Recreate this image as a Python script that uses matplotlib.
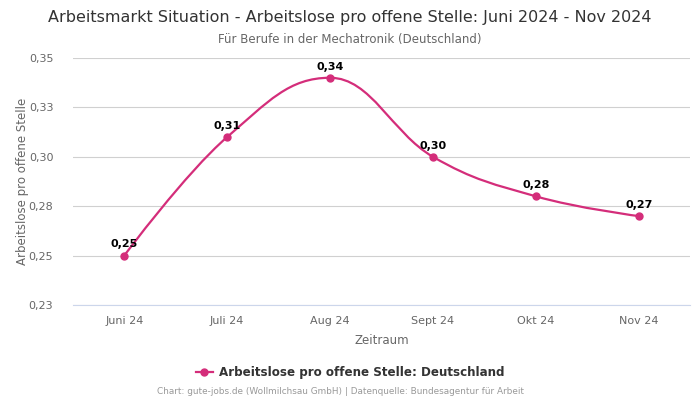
import numpy as np
import matplotlib.pyplot as plt
from matplotlib.path import Path
from matplotlib.patches import PathPatch
from matplotlib.lines import Line2D

# data
months = ['Juni 24', 'Juli 24', 'Aug 24', 'Sept 24', 'Okt 24', 'Nov 24']
values = [0.25, 0.31, 0.34, 0.30, 0.28, 0.27]
y_ticks = [0.225, 0.25, 0.275, 0.30, 0.325, 0.35]

color = '#d42d7a'


def spline_path(xs, ys, smoothing=1.5):
    # highcharts-like spline through the points
    n = len(xs)
    denom = smoothing + 1
    right = [None] * n
    left = [None] * n
    for i in range(1, n - 1):
        px, py = xs[i], ys[i]
        lx, ly = xs[i - 1], ys[i - 1]
        nx, ny = xs[i + 1], ys[i + 1]
        lcx = (smoothing * px + lx) / denom
        lcy = (smoothing * py + ly) / denom
        rcx = (smoothing * px + nx) / denom
        rcy = (smoothing * py + ny) / denom
        corr = 0
        if rcx != lcx:
            corr = (rcy - lcy) * (rcx - px) / (rcx - lcx) + py - rcy
        lcy += corr
        rcy += corr
        if lcy > ly and lcy > py:
            lcy = max(ly, py)
            rcy = 2 * py - lcy
        elif lcy < ly and lcy < py:
            lcy = min(ly, py)
            rcy = 2 * py - lcy
        if rcy > ny and rcy > py:
            rcy = max(ny, py)
            lcy = 2 * py - rcy
        elif rcy < ny and rcy < py:
            rcy = min(ny, py)
            lcy = 2 * py - rcy
        left[i] = (lcx, lcy)
        right[i] = (rcx, rcy)
    verts = [(xs[0], ys[0])]
    codes = [Path.MOVETO]
    for i in range(1, n):
        c1 = right[i - 1] if right[i - 1] else (xs[i - 1], ys[i - 1])
        c2 = left[i] if left[i] else (xs[i], ys[i])
        verts += [c1, c2, (xs[i], ys[i])]
        codes += [Path.CURVE4] * 3
    return Path(verts, codes)


fig = plt.figure(figsize=(7, 4), dpi=100)
ax = fig.add_axes([0.104, 0.2375, 0.882, 0.6175])

x = np.arange(len(months))
ax.add_patch(PathPatch(spline_path(list(x), values), fill=False, edgecolor=color, lw=1.6, zorder=3))
ax.plot(x, values, 'o', color=color, markersize=5, zorder=4)

for xi, v in zip(x, values):
    ax.annotate(f'{v:.2f}'.replace('.', ','), (xi, v), xytext=(0, 4.5), textcoords='offset points',
                ha='center', va='bottom', fontsize=8, fontweight='bold', color='black')

ax.set_xlim(-0.5, len(months) - 0.5)
ax.set_ylim(y_ticks[0], y_ticks[-1])
ax.set_xticks(x)
ax.set_xticklabels(months)
ax.set_yticks(y_ticks)
ax.set_yticklabels([f'{t:.2f}'.replace('.', ',') for t in y_ticks])
ax.tick_params(axis='both', length=0, labelsize=8, colors='#666666', pad=8)
ax.tick_params(axis='y', pad=14)
ax.grid(axis='y', color='#d0d0d0', lw=0.8)
for s in ['top', 'right', 'left']:
    ax.spines[s].set_visible(False)
ax.spines['bottom'].set_color('#ccd6eb')
ax.spines['bottom'].set_linewidth(0.8)

ax.set_xlabel('Zeitraum', fontsize=8.5, color='#666666', labelpad=6)
ax.set_ylabel('Arbeitslose pro offene Stelle', fontsize=8.5, color='#666666', labelpad=0)

fig.text(0.5, 0.957, 'Arbeitsmarkt Situation - Arbeitslose pro offene Stelle: Juni 2024 - Nov 2024',
         ha='center', va='center', fontsize=11.5, color='#333333')
fig.text(0.5, 0.902, 'Für Berufe in der Mechatronik (Deutschland)',
         ha='center', va='center', fontsize=8.5, color='#666666')

handle = Line2D([], [], color=color, marker='o', markersize=5, lw=1.6)
fig.legend([handle], ['Arbeitslose pro offene Stelle: Deutschland'], loc='center',
           bbox_to_anchor=(0.5, 0.068), frameon=False, handlelength=1.4, handletextpad=0.5,
           prop={'weight': 'bold', 'size': 8.6}, labelcolor='#333333')

fig.text(0.486, 0.02, 'Chart: gute-jobs.de (Wollmilchsau GmbH) | Datenquelle: Bundesagentur für Arbeit',
         ha='center', va='center', fontsize=6.4, color='#999999')

fig.savefig('out.png', dpi=100)
